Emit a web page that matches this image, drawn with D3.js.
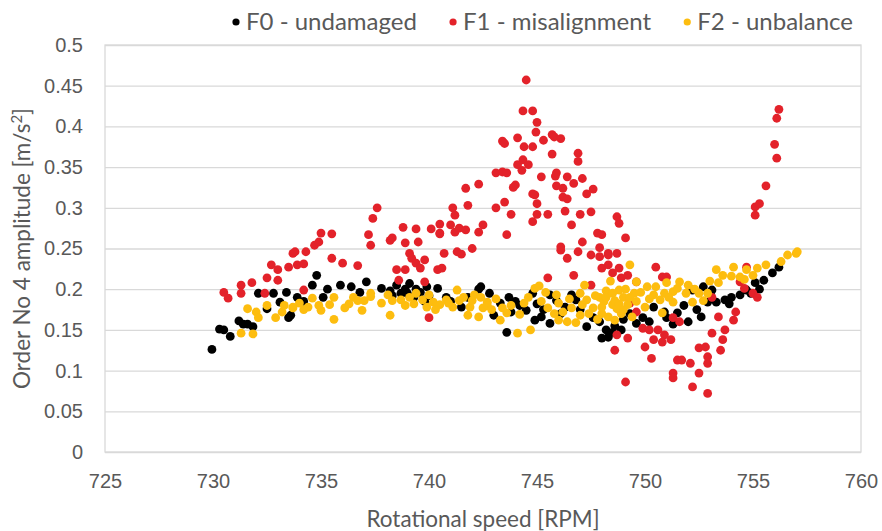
<!DOCTYPE html>
<html>
<head>
<meta charset="utf-8">
<script src="https://cdn.jsdelivr.net/npm/d3@7"></script>
<style>
  html, body { margin: 0; padding: 0; background: #fff; }
  svg { display: block; font-family: Lato, "Liberation Sans", sans-serif; }
</style>
</head>
<body>
<svg id="chart" width="882" height="531"></svg>
<script>
// Order No 4 amplitude vs rotational speed for three machine conditions
const seriesNames = ["F0 - undamaged", "F1 - misalignment", "F2 - unbalance"];
const seriesColors = ["#000000", "#e3222a", "#fdbd0f"];

const xTicks = [725, 730, 735, 740, 745, 750, 755, 760];
const yTicks = [0, 0.05, 0.1, 0.15, 0.2, 0.25, 0.3, 0.35, 0.4, 0.45, 0.5];

// [speed RPM, amplitude m/s^2]
const f0Points = [
  [729.95,0.126],[730.3,0.151],[730.5,0.150],[730.8,0.142],[731.2,0.161],[731.4,0.157],
  [731.6,0.157],[731.85,0.154],[732.1,0.195],[732.5,0.176],[732.8,0.195],[733.1,0.184],
  [733.5,0.165],[733.6,0.168],[733.9,0.190],[733.4,0.196],[734.2,0.185],[734.6,0.205],
  [734.8,0.217],[735.1,0.190],[735.3,0.200],[735.9,0.205],[736.4,0.203],[737.1,0.209],
  [737.8,0.201],[738.2,0.198],[738.5,0.205],[738.7,0.195],[738.9,0.200],[739.1,0.207],
  [739.3,0.190],[739.4,0.200],[739.6,0.196],[739.8,0.185],[740.0,0.192],[740.4,0.201],
  [740.8,0.190],[741.5,0.178],[742.3,0.200],[742.4,0.203],[743.0,0.168],[743.6,0.147],
  [743.7,0.190],[743.8,0.172],[744.0,0.185],[744.2,0.180],[744.8,0.195],[744.9,0.162],
  [745.0,0.182],[745.3,0.175],[745.6,0.193],[745.6,0.158],[746.1,0.170],[746.3,0.178],
  [746.6,0.193],[747.0,0.175],[747.3,0.154],[747.6,0.165],[748.0,0.140],[748.3,0.141],
  [748.6,0.155],[748.9,0.150],[749.3,0.170],[749.9,0.165],[750.4,0.178],[750.9,0.172],
  [751.5,0.171],[751.8,0.180],[752.0,0.160],[752.2,0.199],[752.6,0.166],[752.7,0.203],
  [752.9,0.184],[753.1,0.199],[753.3,0.184],[753.7,0.187],[754.0,0.190],[754.4,0.193],
  [754.7,0.199],[755.1,0.208],[755.5,0.211],[755.9,0.220],[756.2,0.227],
  [742.8,0.195],[743.3,0.183],[744.5,0.174],[745.2,0.166],[745.9,0.186],[746.8,0.187],
  [747.9,0.160],[748.2,0.150],[748.5,0.147],[749.0,0.163],[749.6,0.158],[750.2,0.160],
  [751.0,0.165],[751.3,0.157],[752.4,0.175],[753.9,0.182],[754.9,0.195],[755.3,0.200],
  [739.0,0.195],[739.9,0.203],[738.3,0.192],[736.8,0.196],[741.0,0.185],[741.8,0.190]
];

const f1Points = [
  [730.5,0.196],[730.7,0.189],[731.3,0.205],[731.3,0.195],[731.8,0.208],[732.4,0.195],
  [732.5,0.214],[732.7,0.230],[733.0,0.224],[733.0,0.211],[733.5,0.227],[733.7,0.244],
  [733.8,0.246],[734.3,0.246],[733.9,0.230],[734.2,0.231],[735.0,0.269],[735.5,0.268],
  [734.7,0.254],[734.9,0.258],[735.5,0.238],[736.0,0.232],[736.7,0.229],[734.2,0.199],
  [737.2,0.267],[737.3,0.254],[737.6,0.300],[737.4,0.287],[738.3,0.263],[738.2,0.260],
  [738.9,0.257],[739.5,0.258],[739.1,0.244],[739.2,0.238],[739.4,0.232],[739.8,0.236],
  [739.6,0.226],[738.5,0.224],[738.9,0.224],[740.4,0.224],[740.6,0.226],[740.5,0.269],
  [740.7,0.244],[741.3,0.246],[741.5,0.243],[742.0,0.250],[741.2,0.270],[742.3,0.270],
  [738.6,0.211],[739.8,0.209],[740.0,0.165],[738.8,0.276],[739.4,0.274],[740.1,0.274],
  [740.5,0.280],[740.5,0.268],[741.0,0.279],[741.4,0.275],[741.7,0.273],[741.7,0.324],
  [742.3,0.329],[741.8,0.303],[741.1,0.300],[741.2,0.291],[742.5,0.279],[743.1,0.300],
  [743.5,0.307],[743.1,0.343],[743.4,0.344],[743.6,0.343],[743.4,0.382],[743.5,0.379],
  [743.6,0.267],[743.8,0.292],[744.0,0.328],[743.9,0.325],[744.1,0.386],[744.1,0.353],
  [744.3,0.346],[744.35,0.359],[744.35,0.419],[744.5,0.457],[744.4,0.375],[744.6,0.353],
  [744.8,0.419],[744.8,0.375],[744.8,0.317],[744.9,0.316],[744.8,0.283],[744.95,0.393],
  [745.0,0.405],[745.0,0.305],[745.0,0.292],[745.2,0.338],[745.3,0.383],[745.5,0.292],
  [745.7,0.390],[745.8,0.387],[745.7,0.366],[745.9,0.343],[745.85,0.339],[745.9,0.327],
  [746.1,0.385],[746.2,0.324],[746.2,0.313],[746.4,0.311],[746.3,0.296],[746.4,0.338],
  [746.7,0.330],[746.6,0.279],[746.9,0.367],[746.9,0.357],[747.1,0.336],[747.0,0.292],
  [747.3,0.317],[747.6,0.323],[747.5,0.295],[746.1,0.252],[747.1,0.258],[747.8,0.269],
  [748.0,0.267],[749.1,0.263],[748.7,0.289],[748.8,0.281],[746.9,0.246],[747.9,0.251],
  [748.3,0.244],[748.7,0.244],[746.1,0.248],[746.4,0.238],[747.5,0.242],[747.9,0.240],
  [748.3,0.242],[748.0,0.226],[748.3,0.230],[748.5,0.220],[748.8,0.226],[748.9,0.214],
  [746.7,0.217],[745.5,0.214],[747.5,0.205],[749.2,0.217],[749.6,0.209],[750.5,0.227],
  [750.8,0.215],[751.0,0.215],[749.3,0.183],[749.6,0.172],[749.9,0.152],[750.2,0.150],
  [750.6,0.150],[750.9,0.144],[750.4,0.138],[750.0,0.129],[750.8,0.135],[751.2,0.138],
  [751.3,0.165],[751.6,0.160],[750.3,0.115],[751.5,0.113],[751.3,0.097],[751.3,0.091],
  [748.6,0.125],[749.2,0.140],[749.1,0.086],[748.7,0.144],[751.7,0.113],[752.1,0.109],
  [752.5,0.128],[752.8,0.129],[752.9,0.117],[752.9,0.109],[752.5,0.097],[752.2,0.080],
  [752.9,0.072],[753.1,0.146],[753.5,0.125],[753.6,0.138],[753.7,0.150],[753.4,0.166],
  [754.1,0.162],[754.2,0.172],[754.4,0.209],[754.6,0.201],[755.0,0.195],[755.2,0.190],
  [754.7,0.227],[753.1,0.190],[755.1,0.291],[755.1,0.301],[755.3,0.305],[755.6,0.327],
  [756.0,0.378],[756.1,0.361],[756.1,0.410],[756.2,0.421]
];

const f2Points = [
  [731.3,0.146],[731.85,0.145],[731.6,0.176],[732.0,0.172],[732.1,0.165],[732.9,0.165],
  [733.2,0.172],[733.7,0.177],[732.5,0.180],[733.7,0.178],[734.0,0.183],[734.4,0.178],
  [734.6,0.189],[735.0,0.174],[735.4,0.181],[735.6,0.190],[735.6,0.163],[736.1,0.177],
  [736.5,0.190],[736.7,0.186],[736.9,0.174],[737.3,0.195],[737.3,0.191],[738.2,0.168],
  [738.1,0.193],[738.3,0.186],[738.7,0.187],[739.1,0.190],[739.4,0.195],[739.7,0.187],
  [739.9,0.178],[740.2,0.184],[740.5,0.181],[740.8,0.187],[741.1,0.178],[741.3,0.199],
  [741.6,0.190],[741.9,0.178],[742.1,0.193],[742.5,0.177],[742.7,0.184],[741.8,0.168],
  [742.3,0.166],[742.4,0.190],[742.7,0.180],[743.3,0.162],[743.4,0.177],[744.1,0.146],
  [743.8,0.180],[744.4,0.183],[744.7,0.150],[744.9,0.201],[745.1,0.204],[745.5,0.177],
  [746.0,0.183],[746.2,0.172],[746.4,0.160],[746.8,0.159],[747.0,0.195],[747.3,0.187],
  [747.6,0.177],[747.9,0.190],[748.2,0.198],[748.5,0.181],[748.6,0.162],[748.8,0.199],
  [748.9,0.170],[749.2,0.181],[749.4,0.166],[749.3,0.230],[749.6,0.209],[750.1,0.203],
  [750.4,0.193],[750.7,0.187],[750.5,0.203],[750.8,0.171],[751.0,0.208],[751.3,0.197],
  [751.3,0.184],[751.5,0.201],[751.6,0.209],[751.9,0.195],[752.2,0.184],[752.5,0.195],
  [752.7,0.186],[753.3,0.224],[753.6,0.217],[754.1,0.227],[754.4,0.215],[754.7,0.224],
  [755.0,0.217],[755.2,0.226],[755.6,0.230],[756.3,0.234],[756.6,0.242],[757.0,0.244],
  [757.05,0.246],[753.0,0.210],[748.0,0.170],[747.2,0.205],[745.9,0.193],[748.4,0.210],
  [749.0,0.190],[750.0,0.178],[748.1,0.185],[748.7,0.176],[749.5,0.195],[747.7,0.192],
  [744.6,0.190],[745.2,0.185],[745.4,0.196],[745.8,0.170],[746.0,0.162],[746.5,0.188],
  [746.6,0.177],[747.0,0.168],[747.1,0.181],[747.4,0.170],[747.8,0.163],[748.0,0.178],
  [748.2,0.190],[748.3,0.166],[748.5,0.195],[748.6,0.186],[748.8,0.182],[749.0,0.175],
  [749.1,0.200],[749.3,0.190],[749.6,0.185],[749.8,0.196],[750.2,0.188],[750.9,0.195],
  [751.1,0.190],[752.0,0.205],[752.3,0.200],[752.9,0.195],[753.4,0.208],[754.0,0.216],
  [754.6,0.212],[740.0,0.193],[740.3,0.175],[740.9,0.183],[741.4,0.186],[742.0,0.186],
  [742.9,0.175],[743.1,0.188],[743.6,0.171],[744.2,0.169],[738.9,0.180],[739.3,0.182],
  [737.8,0.183],[737.0,0.186],[736.3,0.182],[734.9,0.180],[734.2,0.175],[733.3,0.180]
];

const allSeries = [f0Points, f1Points, f2Points];

const svg = d3.select("#chart");
const plot = { left: 105, right: 861, top: 45, bottom: 452 };

const x = d3.scaleLinear().domain([725, 760]).range([plot.left, plot.right]);
const y = d3.scaleLinear().domain([0, 0.5]).range([plot.bottom, plot.top]);

const textColor = "#595959";
const gridColor = "#d9d9d9";

// horizontal gridlines with value labels
const yAxis = d3.axisLeft(y).tickValues(yTicks).tickSize(-(plot.right - plot.left))
  .tickPadding(22).tickFormat(d => String(+d.toFixed(2)));
const gy = svg.append("g").attr("transform", `translate(${plot.left},0)`).call(yAxis);
gy.select(".domain").remove();
gy.selectAll(".tick line").attr("stroke", gridColor).attr("stroke-width", 1.3);
gy.selectAll(".tick text").attr("fill", textColor).style("font-size", "20px");

// plot border
svg.append("rect")
  .attr("x", plot.left).attr("y", plot.top)
  .attr("width", plot.right - plot.left).attr("height", plot.bottom - plot.top)
  .attr("fill", "none").attr("stroke", gridColor).attr("stroke-width", 1.3);

// x axis labels
const xAxis = d3.axisBottom(x).tickValues(xTicks).tickSize(0).tickPadding(22);
const gx = svg.append("g").attr("transform", `translate(0,${plot.bottom})`).call(xAxis);
gx.select(".domain").remove();
gx.selectAll(".tick text").attr("fill", textColor).style("font-size", "20px");

// points, drawn in series order
allSeries.forEach((pts, i) => {
  svg.append("g").selectAll("circle").data(pts).join("circle")
    .attr("cx", d => x(d[0])).attr("cy", d => y(d[1]))
    .attr("r", 4.4).attr("fill", seriesColors[i]);
});

// axis titles
svg.append("text")
  .attr("x", (plot.left + plot.right) / 2).attr("y", 527)
  .attr("text-anchor", "middle").attr("fill", textColor).style("font-size", "22.5px")
  .text("Rotational speed [RPM]");

const yt = svg.append("text")
  .attr("transform", `translate(30,${(plot.top + plot.bottom) / 2}) rotate(-90)`)
  .attr("text-anchor", "middle").attr("fill", textColor).style("font-size", "22.5px");
yt.append("tspan").text("Order No 4 amplitude [m/s");
yt.append("tspan").attr("dy", -8).style("font-size", "15px").text("2");
yt.append("tspan").attr("dy", 8).text("]");

// legend: laid out left to right between a start and end position
const legendStart = 236, legendEnd = 853, dotGap = 10;
const lg = svg.append("g");
const items = seriesNames.map((name, i) => {
  const g = lg.append("g");
  g.append("circle").attr("cx", 0).attr("cy", 22).attr("r", 3.6).attr("fill", seriesColors[i]);
  const t = g.append("text").attr("x", dotGap).attr("y", 30)
    .attr("fill", textColor).style("font-size", "24px").text(name);
  return { g, w: dotGap + t.node().getComputedTextLength() };
});
const totalW = d3.sum(items, d => d.w);
const spacing = (legendEnd - legendStart - totalW) / (items.length - 1);
let cx = legendStart;
items.forEach(it => { it.g.attr("transform", `translate(${cx},0)`); cx += it.w + spacing; });
</script>
</body>
</html>
